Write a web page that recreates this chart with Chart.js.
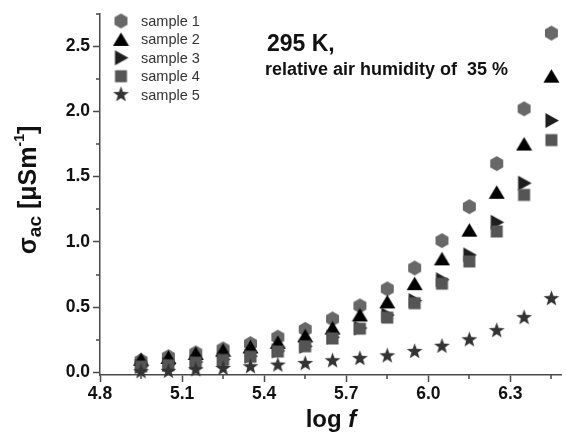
<!DOCTYPE html>
<html>
<head>
<meta charset="utf-8">
<script src="https://cdn.jsdelivr.net/npm/chart.js@4.4.0/dist/chart.umd.min.js"></script>
<style>
html, body { margin: 0; padding: 0; background: #fff; }
canvas { display: block; }
</style>
</head>
<body>
<canvas id="chart" width="566" height="437"></canvas>
<script>
// log f values (x) shared by all samples
var logF = [4.95, 5.05, 5.15, 5.25, 5.35, 5.45, 5.55, 5.65, 5.75, 5.85, 5.95, 6.05, 6.15, 6.25, 6.35, 6.45];

// sigma_ac in uS/m
var sample1 = [0.09, 0.12, 0.15, 0.18, 0.22, 0.27, 0.33, 0.41, 0.51, 0.64, 0.80, 1.01, 1.27, 1.60, 2.02, 2.60];
var sample2 = [0.10, 0.115, 0.145, 0.17, 0.195, 0.23, 0.28, 0.34, 0.44, 0.54, 0.68, 0.87, 1.09, 1.38, 1.75, 2.27];
var sample3 = [0.045, 0.06, 0.08, 0.10, 0.125, 0.165, 0.20, 0.27, 0.34, 0.44, 0.55, 0.71, 0.90, 1.15, 1.45, 1.93];
var sample4 = [0.045, 0.055, 0.075, 0.095, 0.12, 0.16, 0.20, 0.26, 0.335, 0.42, 0.53, 0.68, 0.85, 1.08, 1.36, 1.78];
var sample5 = [0.005, 0.008, 0.02, 0.03, 0.043, 0.056, 0.068, 0.089, 0.106, 0.127, 0.16, 0.20, 0.25, 0.32, 0.42, 0.565];

var sampleNames = ['sample 1', 'sample 2', 'sample 3', 'sample 4', 'sample 5'];
var xTicks = [4.8, 5.1, 5.4, 5.7, 6.0, 6.3];
var yTicks = [0.0, 0.5, 1.0, 1.5, 2.0, 2.5];

var FONT = '"Liberation Sans", Arial, sans-serif';
var AXIS_COLOR = '#4a4a4a';

// marker symbols drawn on small canvases (hexagon, triangles, square, star)
function makeMarker(kind, color) {
    var c = document.createElement('canvas');
    var s = 17;
    c.width = s; c.height = s;
    var g = c.getContext('2d');
    g.fillStyle = color;
    g.beginPath();
    var cx = s / 2, cy = s / 2, i, a;
    if (kind === 'hexagon') {
        for (i = 0; i < 6; i++) {
            a = -Math.PI / 2 + i * Math.PI / 3;
            g.lineTo(cx + 7.5 * Math.cos(a), cy + 7.5 * Math.sin(a));
        }
    } else if (kind === 'triangle') {
        g.moveTo(cx, cy - 7);
        g.lineTo(cx + 8, cy + 6.5);
        g.lineTo(cx - 8, cy + 6.5);
    } else if (kind === 'right') {
        g.moveTo(cx - 6, cy - 7.5);
        g.lineTo(cx + 7.5, cy);
        g.lineTo(cx - 6, cy + 7.5);
    } else if (kind === 'square') {
        g.rect(cx - 6, cy - 6, 12, 12);
    } else if (kind === 'star') {
        for (i = 0; i < 10; i++) {
            a = -Math.PI / 2 + i * Math.PI / 5;
            var r = (i % 2 === 0) ? 8.3 : 3.4;
            g.lineTo(cx + r * Math.cos(a), cy + r * Math.sin(a));
        }
    }
    g.closePath();
    g.fill();
    return c;
}

var markers = [
    makeMarker('hexagon', '#686868'),
    makeMarker('triangle', '#000000'),
    makeMarker('right', '#1e1e1e'),
    makeMarker('square', '#555555'),
    makeMarker('star', '#333333')
];

function toPoints(ys) {
    return logF.map(function (x, i) { return { x: x, y: ys[i] }; });
}

var allSamples = [sample1, sample2, sample3, sample4, sample5];
var datasets = allSamples.map(function (ys, i) {
    return {
        label: sampleNames[i],
        data: toPoints(ys),
        pointStyle: markers[i],
        showLine: false,
        order: 5 - i,   // sample 5 on top
        clip: false
    };
});

// minor ticks, legend, labels and axis titles
var extras = {
    id: 'extras',
    afterDraw: function (chart) {
        var ctx = chart.ctx;
        var xs = chart.scales.x, ys = chart.scales.y;
        var area = chart.chartArea;
        ctx.save();

        // minor ticks
        ctx.strokeStyle = AXIS_COLOR;
        ctx.lineWidth = 1.5;
        ctx.beginPath();
        xTicks.forEach(function (t) {
            var px = Math.round(xs.getPixelForValue(t + 0.15));
            ctx.moveTo(px, area.bottom);
            ctx.lineTo(px, area.bottom + 4);
        });
        yTicks.forEach(function (t) {
            var py = Math.round(ys.getPixelForValue(t + 0.25));
            ctx.moveTo(area.left, py);
            ctx.lineTo(area.left - 4, py);
        });
        ctx.stroke();

        // legend
        ctx.font = '14.5px ' + FONT;
        ctx.fillStyle = '#333';
        ctx.textBaseline = 'middle';
        ctx.textAlign = 'left';
        sampleNames.forEach(function (name, i) {
            var y = 21 + i * 18.4;
            var m = markers[i];
            ctx.drawImage(m, 121 - m.width / 2, y - m.height / 2);
            ctx.fillText(name, 141, y + 1);
        });

        // annotation
        ctx.fillStyle = '#111';
        ctx.textBaseline = 'alphabetic';
        ctx.font = 'bold 23px ' + FONT;
        ctx.fillText('295 K,', 267, 51);
        ctx.font = 'bold 18px ' + FONT;
        ctx.fillText('relative air humidity of  35 %', 265, 75);

        // x title: log f
        ctx.font = 'bold 24px ' + FONT;
        var w1 = ctx.measureText('log ').width;
        ctx.font = 'italic bold 24px ' + FONT;
        var w2 = ctx.measureText('f').width;
        var x0 = 331 - (w1 + w2) / 2;
        ctx.font = 'bold 24px ' + FONT;
        ctx.fillText('log ', x0, 427);
        ctx.font = 'italic bold 24px ' + FONT;
        ctx.fillText('f', x0 + w1, 427);

        // y title: sigma_ac [uSm^-1]
        var big = 'bold 25px ' + FONT, sub = 'bold 19px ' + FONT, sup = 'bold 14px ' + FONT;
        var parts = [
            { t: '\u03c3', f: big, dy: 0 },
            { t: 'ac', f: sub, dy: 5 },
            { t: ' [\u03bcSm', f: big, dy: 0 },
            { t: '-1', f: sup, dy: -12 },
            { t: ']', f: big, dy: 0 }
        ];
        var total = 0;
        parts.forEach(function (p) { ctx.font = p.f; p.w = ctx.measureText(p.t).width; total += p.w; });
        ctx.translate(36, 190 + total / 2);
        ctx.rotate(-Math.PI / 2);
        var x = 0;
        parts.forEach(function (p) {
            ctx.font = p.f;
            ctx.fillText(p.t, x, p.dy);
            x += p.w;
        });
        ctx.restore();
    }
};

new Chart(document.getElementById('chart'), {
    type: 'scatter',
    data: { datasets: datasets },
    options: {
        responsive: false,
        animation: false,
        devicePixelRatio: 1,
        layout: { padding: { top: 12, right: 0, left: 0, bottom: 0 } },
        plugins: {
            legend: { display: false },
            tooltip: { enabled: false }
        },
        scales: {
            x: {
                type: 'linear',
                min: 4.8,
                max: 6.485,
                afterBuildTicks: function (scale) {
                    scale.ticks = xTicks.map(function (v) { return { value: v }; });
                },
                afterFit: function (scale) { scale.height = 62; },
                grid: { drawOnChartArea: false, tickLength: 7, tickColor: AXIS_COLOR, tickWidth: 1.5 },
                border: { color: AXIS_COLOR, width: 1.5 },
                ticks: {
                    padding: 2,
                    color: '#111',
                    font: { family: FONT, size: 17.5, weight: 'bold' },
                    maxRotation: 0,
                    callback: function (v) { return v.toFixed(1); }
                }
            },
            y: {
                type: 'linear',
                min: -0.02,
                max: 2.75,
                afterBuildTicks: function (scale) {
                    scale.ticks = yTicks.map(function (v) { return { value: v }; });
                },
                afterFit: function (scale) { scale.width = 100; },
                grid: { drawOnChartArea: false, tickLength: 7, tickColor: AXIS_COLOR, tickWidth: 1.5 },
                border: { color: AXIS_COLOR, width: 1.5 },
                ticks: {
                    padding: 3,
                    color: '#111',
                    font: { family: FONT, size: 17.5, weight: 'bold' },
                    callback: function (v) { return v.toFixed(1); }
                }
            }
        }
    },
    plugins: [extras]
});
</script>
</body>
</html>
